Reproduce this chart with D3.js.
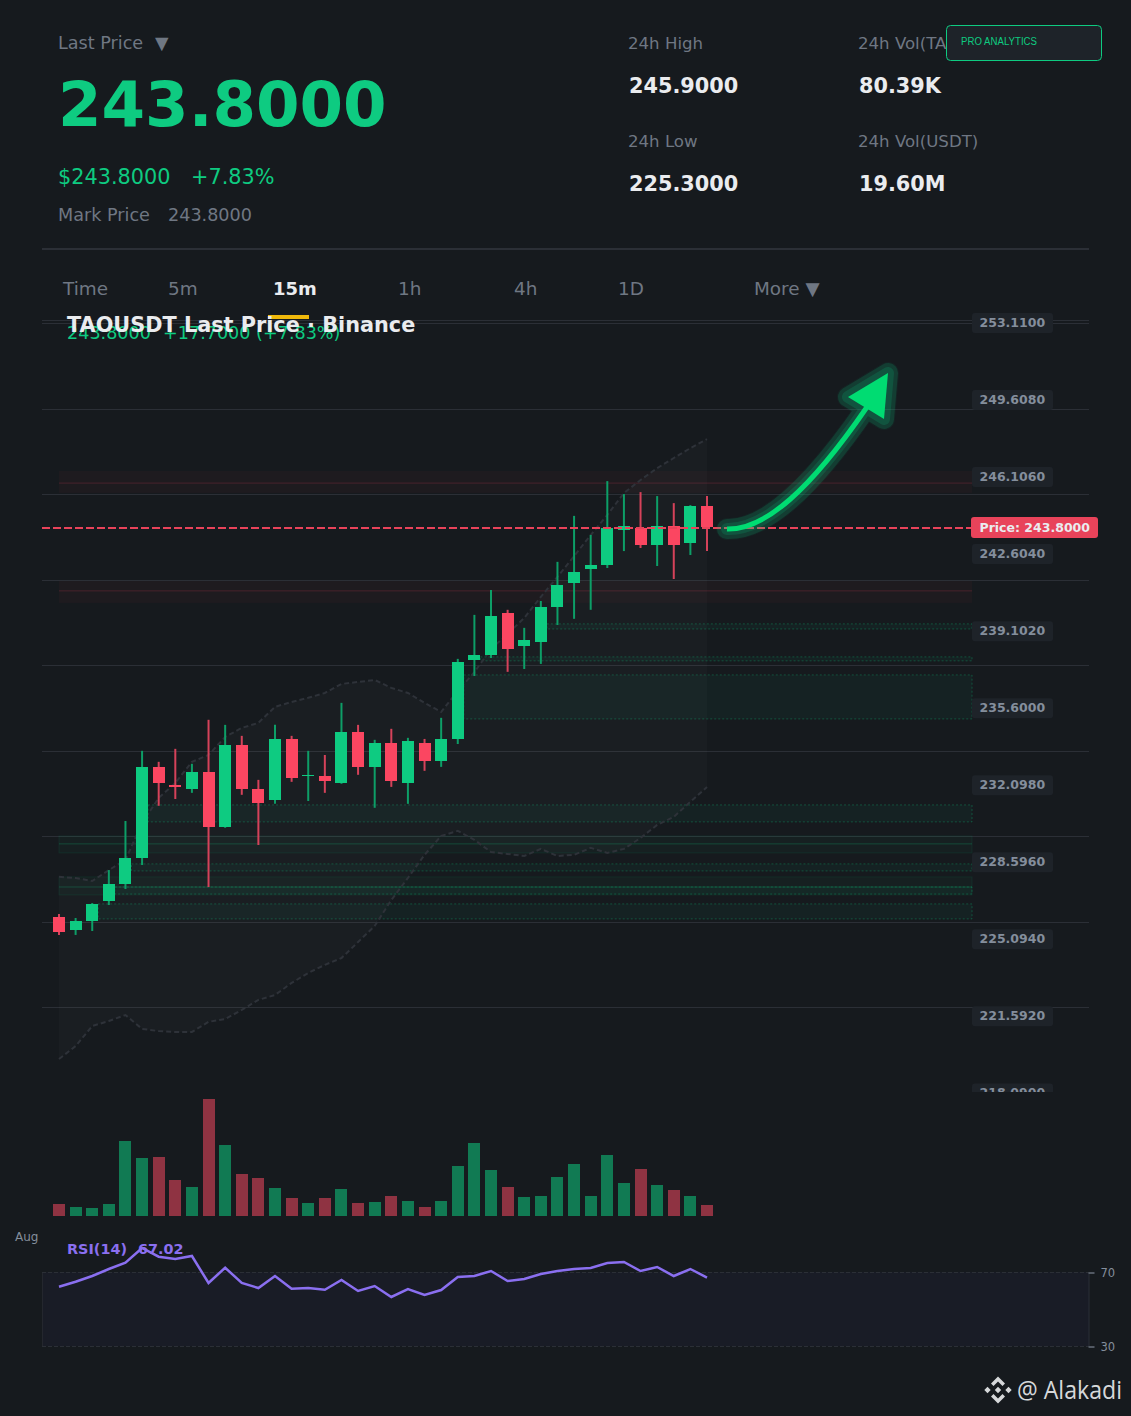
<!DOCTYPE html>
<html>
<head>
<meta charset="utf-8">
<title>TAOUSDT</title>
<script src="https://cdn.jsdelivr.net/npm/d3@7"></script>
<style>
  html, body { margin: 0; padding: 0; background: #161a1e; }
  svg { display: block; font-family: "DejaVu Sans", sans-serif; }
</style>
</head>
<body>
<svg id="chart" width="1131" height="1416"></svg>
<script>
// candles, oldest first
var opens  = [226.09,225.50,225.91,226.81,227.59,228.77,232.91,232.09,231.91,232.68,230.18,233.91,231.91,231.41,234.18,232.50,232.50,232.18,234.50,232.91,234.00,232.18,234.00,233.18,234.18,237.77,238.00,239.91,238.41,238.59,240.18,241.27,241.91,242.09,243.68,243.77,242.99,243.86,243.09,244.77];
var highs  = [226.22,226.04,226.72,228.22,230.45,233.64,233.14,233.73,233.05,235.05,234.82,234.32,232.32,234.82,234.32,233.64,233.45,235.82,234.82,234.14,234.64,234.23,234.18,235.14,237.82,239.82,240.95,240.05,239.23,240.45,242.23,244.32,243.45,245.90,245.31,245.40,245.22,244.90,244.81,245.22];
var lows   = [225.27,225.27,225.45,226.63,227.36,228.45,231.14,231.45,231.73,227.45,230.14,231.64,229.36,231.23,232.23,231.36,231.73,232.14,232.55,231.05,232.00,231.23,232.73,232.91,233.95,237.04,237.86,237.23,237.36,237.59,239.36,239.64,240.05,241.95,242.72,242.86,242.04,241.45,242.54,242.72];
var closes = [225.41,225.91,226.68,227.59,228.77,232.91,232.18,232.00,232.68,230.18,233.91,231.91,231.27,234.18,232.41,232.55,232.27,234.50,232.91,234.00,232.27,234.09,233.18,234.18,237.68,238.00,239.77,238.27,238.68,240.18,241.18,241.77,242.09,243.77,243.86,242.99,243.86,242.99,244.77,243.80];
var volumes = [360,270,240,360,2250,1740,1770,1080,870,3510,2130,1260,1140,840,540,390,540,810,390,420,600,450,270,450,1500,2190,1380,870,570,600,1170,1560,600,1830,990,1410,930,780,600,330];
var rsiValues = [62.05,64.76,67.84,71.62,75.03,82.97,78.27,77.03,78.65,64.05,72.32,64.05,61.35,67.84,60.97,61.35,60.43,65.68,59.73,62.43,56.49,60.81,57.57,60.27,67.30,67.84,70.54,65.14,66.22,68.92,70.54,71.62,72.16,74.86,75.41,70.54,72.70,67.84,71.62,67.02];
var bandUpper = [227.91,227.86,227.72,228.22,228.68,230.36,231.50,232.18,233.14,233.45,234.27,234.68,234.91,235.64,235.86,236.05,236.27,236.68,236.77,236.86,236.50,236.27,235.82,235.41,236.36,237.22,238.27,238.95,239.68,240.64,241.55,242.49,243.45,244.36,245.36,245.95,246.49,246.95,247.40,247.81];
var bandLower = [219.63,220.22,221.13,221.36,221.63,221.00,220.90,220.86,220.86,221.32,221.45,221.86,222.32,222.54,223.09,223.54,223.91,224.22,224.95,225.68,226.86,227.86,228.91,229.77,230.00,229.59,229.04,228.95,228.86,229.18,228.86,228.91,229.23,229.00,229.18,229.68,230.27,230.64,231.32,232.00];

var priceTicks = [253.11,249.608,246.106,242.604,239.102,235.6,232.098,228.596,225.094,221.592,218.09];
var gridPrices = [253.20,253.11,249.18,245.31,241.41,237.54,233.63,229.77,225.86,221.99];
var lastPrice = 243.8;

// supply / demand zones: top, bottom, mid line (or null), first candle (-1 = from the left edge)
var zoneKinds   = ["sell","sell","buy","buy","buy","buy","buy","buy","buy","buy","buy"];
var zoneTops    = [246.36,241.36,239.41,237.91,237.09,231.18,229.77,228.50,227.91,227.45,226.68];
var zoneBottoms = [245.36,240.36,239.18,237.73,235.09,230.41,229.00,228.18,227.09,227.13,226.00];
var zoneMids    = [245.81,240.91,null,null,null,null,229.41,null,227.45,null,null];
var zoneStarts  = [-1,-1,29,25,24,5,-1,4,-1,3,2];

var tabs = ["Time","5m","15m","1h","4h","1D","More ▼"];
var tabX = [63,168,273,398,514,618,754];

var green = "#0ecb81", red = "#fb4661", grey = "#6f7783", white = "#eaecef", gridCol = "#2b2f36", purple = "#8a6ff0";
var svg = d3.select("#chart");
var idx = d3.range(opens.length);

var x = d3.scalePoint().domain(idx).range([59, 707]);
var y = d3.scaleLinear().domain([218.09, 253.11]).range([1092.9, 322.5]);
var yVol = d3.scaleLinear().domain([0, 3510]).range([1216, 1099]);
var yRsi = d3.scaleLinear().domain([30, 70]).range([1346, 1272]);
var bodyW = 12;

function label(g, px, py, str, size, fill, weight) {
  return g.append("text").attr("x", px).attr("y", py).attr("font-size", size)
    .attr("fill", fill).attr("font-weight", weight || "normal").text(str);
}

// header
var head = svg.append("g");
label(head, 58, 49, "Last Price", 17.6, grey);
label(head, 155, 49, "▼", 17.6, grey);
label(head, 58, 126, "243.8000", 62.6, green, "bold");
label(head, 58, 184, "$243.8000", 20.8, green);
label(head, 191, 184, "+7.83%", 20.8, green);
label(head, 58, 221, "Mark Price", 17.6, grey);
label(head, 168, 221, "243.8000", 17.6, grey);
label(head, 628, 49, "24h High", 16.6, grey);
label(head, 629, 93, "245.9000", 20.8, white, "bold");
label(head, 628, 147, "24h Low", 16.6, grey);
label(head, 629, 191, "225.3000", 20.8, white, "bold");
label(head, 858, 49, "24h Vol(TAO)", 16.6, grey);
label(head, 859, 93, "80.39K", 20.8, white, "bold");
label(head, 858, 147, "24h Vol(USDT)", 16.6, grey);
label(head, 859, 191, "19.60M", 20.8, white, "bold");

head.append("rect").attr("x", 946.5).attr("y", 25.5).attr("width", 155).attr("height", 35).attr("rx", 4)
  .attr("fill", "#1e2329").attr("stroke", green);
label(head, 961, 45, "PRO ANALYTICS", 10, green)
  .attr("font-family", "Liberation Sans").attr("textLength", 76).attr("lengthAdjust", "spacingAndGlyphs");

head.append("line").attr("x1", 42).attr("x2", 1089).attr("y1", 249).attr("y2", 249)
  .attr("stroke", gridCol).attr("stroke-width", 2);

// tabs
tabs.forEach(function(t, i) {
  var on = t == "15m";
  label(head, tabX[i], 295, t, on ? 18 : 18.4, on ? white : grey, on ? "bold" : "normal");
});

// grid
svg.append("g").selectAll("line").data(gridPrices).join("line")
  .attr("x1", 42).attr("x2", 1089)
  .attr("y1", function(d, i) { return i == 0 ? 320.5 : Math.round(y(d)) + 0.5; })
  .attr("y2", function(d, i) { return i == 0 ? 320.5 : Math.round(y(d)) + 0.5; })
  .attr("stroke", gridCol);

// zones
var zoneG = svg.append("g");
zoneKinds.forEach(function(kind, i) {
  var full = zoneStarts[i] < 0;
  var left = full ? x(0) : x(zoneStarts[i]) + bodyW / 2;
  var col = kind == "sell" ? "#f6465d" : green;
  var zone = zoneG.append("rect").attr("x", left).attr("width", 972 - left)
    .attr("y", y(zoneTops[i])).attr("height", y(zoneBottoms[i]) - y(zoneTops[i]))
    .attr("fill", col).attr("fill-opacity", kind == "sell" ? 0.035 : (full ? 0.04 : 0.05));
  if (kind == "buy") {
    zone.attr("stroke", col).attr("stroke-opacity", full ? 0.09 : 0.3).attr("stroke-dasharray", full ? null : "2 2");
  }
  if (zoneMids[i] != null) {
    zoneG.append("line").attr("x1", left).attr("x2", 972).attr("y1", y(zoneMids[i])).attr("y2", y(zoneMids[i]))
      .attr("stroke", col).attr("stroke-opacity", kind == "sell" ? 0.2 : 0.25);
  }
});

// bollinger fill + dashed edges
var area = d3.area().x(function(i) { return x(i); })
  .y0(function(i) { return y(bandLower[i]); })
  .y1(function(i) { return y(bandUpper[i]); });
svg.append("path").datum(idx).attr("d", area).attr("fill", "#ffffff").attr("fill-opacity", 0.02);

[bandUpper, bandLower].forEach(function(band) {
  var line = d3.line().x(function(i) { return x(i); }).y(function(i) { return y(band[i]); });
  svg.append("path").datum(idx).attr("d", line).attr("fill", "none")
    .attr("stroke", "#2e3239").attr("stroke-width", 2).attr("stroke-dasharray", "5 3");
});

// candles
var candles = svg.append("g").selectAll("g").data(idx).join("g");
candles.append("line")
  .attr("x1", function(i) { return x(i); }).attr("x2", function(i) { return x(i); })
  .attr("y1", function(i) { return y(highs[i]); }).attr("y2", function(i) { return y(lows[i]); })
  .attr("stroke", function(i) { return closes[i] >= opens[i] ? "#0d9e67" : "#d5425a"; })
  .attr("stroke-width", 2);
candles.append("rect")
  .attr("x", function(i) { return x(i) - bodyW / 2; }).attr("width", bodyW)
  .attr("y", function(i) { return y(Math.max(opens[i], closes[i])); })
  .attr("height", function(i) { return Math.max(1, Math.abs(y(opens[i]) - y(closes[i]))); })
  .attr("fill", function(i) { return closes[i] >= opens[i] ? green : red; })
  .attr("shape-rendering", "crispEdges");

// last price line
var lastY = Math.round(y(lastPrice)) + 1;
svg.append("line").attr("x1", 42).attr("x2", 972).attr("y1", lastY).attr("y2", lastY)
  .attr("stroke", "#e8435a").attr("stroke-width", 2).attr("stroke-dasharray", "8 3");

// arrow annotation, glow first so the layers do not double up where line meets head
var arrowLine = "M727,529 C765,530 810,490 867,407";
var arrowHead = "M888,373 L848,397 L884,419 Z";
[[22, 0.05], [20, 0.16], [12, 0.17]].forEach(function(s) {
  svg.append("path").attr("d", arrowLine + " " + arrowHead).attr("fill", "none").attr("stroke", "#0ecb81")
    .attr("stroke-opacity", s[1]).attr("stroke-width", s[0])
    .attr("stroke-linecap", "round").attr("stroke-linejoin", "round");
});
svg.append("path").attr("d", arrowLine).attr("fill", "none").attr("stroke", "#00dc72").attr("stroke-width", 5);
svg.append("path").attr("d", arrowHead).attr("fill", "#00dc72");

// price axis, clipped at the foot of the pane
svg.append("clipPath").attr("id", "paneClip").append("rect").attr("width", 1131).attr("height", 1092);
var axisG = svg.append("g").attr("clip-path", "url(#paneClip)").append("g").attr("transform", "translate(972,0)")
  .call(d3.axisRight(y).tickValues(priceTicks).tickFormat(d3.format(".4f")).tickSize(0).tickPadding(7.5));
axisG.select(".domain").remove();
axisG.selectAll(".tick").insert("rect", "text").attr("x", 0).attr("y", -10).attr("width", 81).attr("height", 20)
  .attr("rx", 3).attr("fill", "#1e2329");
axisG.selectAll("text").attr("font-family", "DejaVu Sans").attr("font-size", 12.5).attr("font-weight", "bold").attr("fill", "#848e9c");

svg.append("rect").attr("x", 971).attr("y", 517).attr("width", 127).attr("height", 21).attr("rx", 3).attr("fill", "#e8435a");
label(svg, 979.5, 531.5, "Price: 243.8000", 12.5, white, "bold");

// title over the chart
label(svg, 67, 339, "243.8000", 17.6, green);
label(svg, 163, 339, "+17.7000 (+7.83%)", 17.6, green);
svg.append("rect").attr("x", 268).attr("y", 315).attr("width", 41).attr("height", 4).attr("fill", "#f0b90b");
label(svg, 67, 331.5, "TAOUSDT Last Price · Binance", 20.8, white, "bold");

// volume
svg.append("g").selectAll("rect").data(idx).join("rect")
  .attr("x", function(i) { return x(i) - bodyW / 2; }).attr("width", bodyW)
  .attr("y", function(i) { return yVol(volumes[i]); })
  .attr("height", function(i) { return yVol(0) - yVol(volumes[i]); })
  .attr("fill", function(i) { return closes[i] >= opens[i] ? "#117a53" : "#8f3342"; })
  .attr("shape-rendering", "crispEdges");

label(svg, 15, 1241, "Aug", 12, "#848e9c");

// rsi pane
svg.append("rect").attr("x", 42).attr("width", 1047).attr("y", yRsi(70)).attr("height", yRsi(30) - yRsi(70))
  .attr("fill", "#191c26");
svg.append("line").attr("x1", 42.5).attr("x2", 42.5).attr("y1", yRsi(70)).attr("y2", yRsi(30)).attr("stroke", "#24272e");
[70, 30].forEach(function(v) {
  svg.append("line").attr("x1", 42).attr("x2", 1089).attr("y1", yRsi(v) + 0.5).attr("y2", yRsi(v) + 0.5)
    .attr("stroke", gridCol).attr("stroke-dasharray", "4 2");
});
var rsiAxis = svg.append("g").attr("transform", "translate(1088.5,0.5)")
  .call(d3.axisRight(yRsi).tickValues([70, 30]).tickSize(6).tickPadding(6));
rsiAxis.select(".domain").attr("stroke", gridCol);
rsiAxis.selectAll("line").attr("stroke", "#848e9c");
rsiAxis.selectAll("text").attr("font-family", "DejaVu Sans").attr("font-size", 11.5).attr("fill", "#848e9c");

var rsiLine = d3.line().x(function(i) { return x(i); }).y(function(i) { return yRsi(rsiValues[i]); });
svg.append("path").datum(idx).attr("d", rsiLine).attr("fill", "none").attr("stroke", purple).attr("stroke-width", 2.5);
label(svg, 67, 1254, "RSI(14)", 14.4, purple, "bold");
label(svg, 138, 1254, "67.02", 14.4, purple, "bold");

// watermark
var mark = svg.append("g").attr("transform", "translate(998,1390)").attr("fill", "#d6d8da");
mark.append("path").attr("d", "M0,-13.5 L7,-6.5 L4.5,-4 L0,-8.5 L-4.5,-4 L-7,-6.5 Z M0,13.5 L7,6.5 L4.5,4 L0,8.5 L-4.5,4 L-7,6.5 Z M0,-3.2 L3.2,0 L0,3.2 L-3.2,0 Z M-10.5,-3.2 L-7.3,0 L-10.5,3.2 L-13.7,0 Z M10.5,-3.2 L13.7,0 L10.5,3.2 L7.3,0 Z");
label(svg, 1017, 1399, "@ Alakadi", 25, "#d6d8da")
  .attr("font-family", "Open Sans").attr("textLength", 105).attr("lengthAdjust", "spacingAndGlyphs");
</script>
</body>
</html>
